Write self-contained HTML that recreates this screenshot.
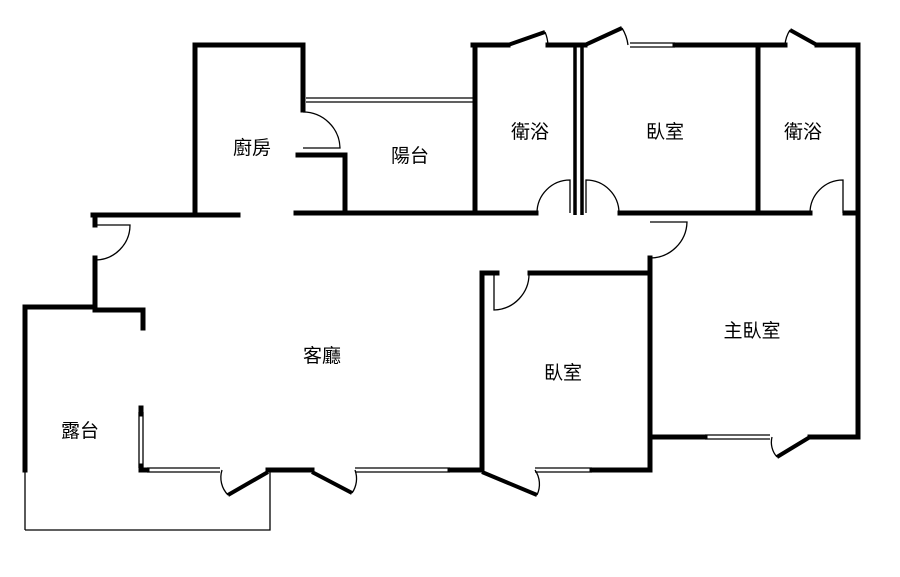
<!DOCTYPE html>
<html><head><meta charset="utf-8"><style>
html,body{margin:0;padding:0;background:#fff;}
svg{display:block}
text{font-family:"Liberation Sans","Noto Sans CJK TC",sans-serif;font-size:19px;fill:#000;text-anchor:middle}
</style></head><body>
<svg width="900" height="577" viewBox="0 0 900 577" xmlns="http://www.w3.org/2000/svg">
<g stroke="#000" stroke-width="5" fill="none" stroke-linecap="square">
<polyline points="195,215 195,45 303,45 303,110"/>
<polyline points="298,155 345,155 345,213"/>
<line x1="93" y1="215" x2="238" y2="215"/>
<line x1="296" y1="213" x2="536" y2="213"/>
<line x1="475" y1="45" x2="475" y2="213"/>
<line x1="473" y1="45" x2="508" y2="45"/>
<line x1="548" y1="45" x2="585" y2="45"/>
<line x1="675" y1="45" x2="785" y2="45"/>
<line x1="817" y1="45" x2="858" y2="45"/>
<line x1="758" y1="45" x2="758" y2="213"/>
<line x1="620" y1="213" x2="810" y2="213"/>
<line x1="845" y1="213" x2="858" y2="213"/>
<line x1="858" y1="45" x2="858" y2="437"/>
<line x1="650" y1="258" x2="650" y2="470"/>
<polyline points="497,273 482,273 482,470"/>
<line x1="530" y1="273" x2="650" y2="273"/>
<line x1="650" y1="437" x2="705" y2="437"/>
<line x1="810" y1="437" x2="858" y2="437"/>
<polyline points="95,215 95,225"/>
<polyline points="95,258 95,310 143,310 143,328"/>
<polyline points="25,470 25,307 95,307"/>
<line x1="141" y1="408" x2="141" y2="414"/>
<line x1="141" y1="466" x2="141" y2="470"/>
<line x1="141" y1="470" x2="147" y2="470"/>
<line x1="268" y1="470" x2="312" y2="470"/>
<line x1="450" y1="470" x2="482" y2="470"/>
<line x1="592" y1="470" x2="650" y2="470"/>
</g>
<g stroke="#000" stroke-width="3.5" fill="none">
<line x1="575" y1="45" x2="575" y2="215"/>
<line x1="582" y1="45" x2="582" y2="215"/>
</g>
<g stroke="#000" stroke-width="1.3" fill="none">
<line x1="306" y1="98" x2="475" y2="98"/><line x1="306" y1="102" x2="475" y2="102"/>
<line x1="25" y1="470" x2="25" y2="530"/>
<polyline points="25,530 270,530 270,472"/>
<line x1="139" y1="412" x2="139" y2="468"/><line x1="143" y1="412" x2="143" y2="468"/>
<line x1="147" y1="468" x2="220" y2="468"/><line x1="147" y1="472" x2="220" y2="472"/>
<line x1="355" y1="468" x2="450" y2="468"/><line x1="355" y1="472" x2="450" y2="472"/>
<line x1="535" y1="468" x2="592" y2="468"/><line x1="535" y1="472" x2="592" y2="472"/>
<line x1="705" y1="435" x2="770" y2="435"/><line x1="705" y1="439" x2="770" y2="439"/>
<line x1="630" y1="43" x2="675" y2="43"/><line x1="630" y1="47" x2="675" y2="47"/>
<path d="M303,112 A37,37 0 0 1 340,148 L303,148"/>
<path d="M95,225 L130,225 A35,35 0 0 1 95,260"/>
<path d="M537,213 A33,33 0 0 1 570,180 L570,213"/>
<path d="M586,213 L586,180 A33,33 0 0 1 619,213"/>
<path d="M810,213 A33,33 0 0 1 843,180 L843,213"/>
<path d="M650,222 L687,222 A37,37 0 0 1 650,258"/>
<path d="M494,273 L494,310 A36,36 0 0 0 529,273"/>
<path d="M545,32 A38,38 0 0 1 548,45"/>
<path d="M622,28 A42,42 0 0 1 628,45"/>
<path d="M790,30 A32,32 0 0 0 785,45"/>
<path d="M228,495 A25,25 0 0 1 222,470"/>
<path d="M352,493 A25,25 0 0 0 355,470"/>
<path d="M537,495 A25,25 0 0 0 535,470"/>
<path d="M777,457 A22,22 0 0 1 772,437"/>
</g>
<g stroke="#000" stroke-width="4" fill="none">
<line x1="508" y1="45" x2="545" y2="32"/>
<line x1="585" y1="45" x2="622" y2="28"/>
<line x1="817" y1="45" x2="790" y2="30"/>
<line x1="268" y1="472" x2="228" y2="495"/>
<line x1="312" y1="472" x2="352" y2="493"/>
<line x1="482" y1="472" x2="537" y2="495"/>
<line x1="810" y1="437" x2="777" y2="457"/>
</g>
<text x="252" y="154">廚房</text>
<text x="410" y="162">陽台</text>
<text x="530" y="138">衛浴</text>
<text x="665" y="138">臥室</text>
<text x="803" y="138">衛浴</text>
<text x="322" y="362">客廳</text>
<text x="752" y="337">主臥室</text>
<text x="563" y="379">臥室</text>
<text x="80" y="437">露台</text>
</svg>
</body></html>
